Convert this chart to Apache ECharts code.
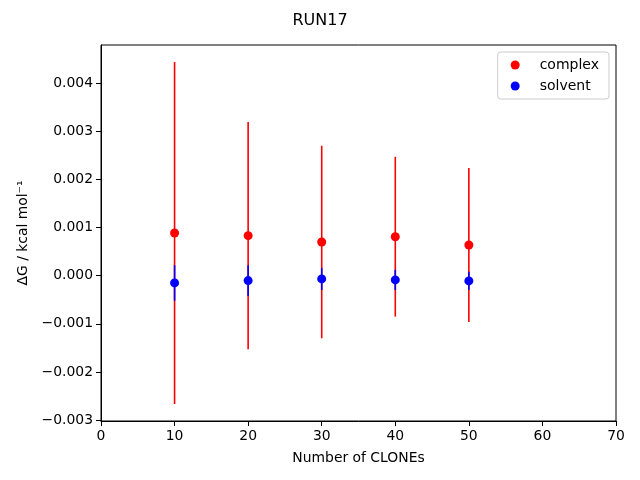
<!DOCTYPE html>
<html>
<head>
<meta charset="utf-8">
<script src="https://cdn.jsdelivr.net/npm/echarts@6/dist/echarts.min.js"></script>
<style>html,body{margin:0;padding:0;background:#fff;}#c{width:640px;height:480px;}</style>
</head>
<body>
<div id="c"></div>
<script>
const clones = [10, 20, 30, 40, 50];
const complexMean = [0.000885, 0.00083, 0.000698, 0.000808, 0.000636];
const complexErr = [0.00355, 0.00236, 0.002, 0.00166, 0.0016];
const solventMean = [-0.000152, -0.000104, -0.000068, -0.000089, -0.00011];
const solventErr = [0.00037, 0.00032, 0.00023, 0.00021, 0.00019];
const yTicks = [-0.003, -0.002, -0.001, 0, 0.001, 0.002, 0.003, 0.004];

const FONT = 'DejaVu Sans';
function fmtY(v) { const s = Number(v).toFixed(3); return s.replace('-', '\u2212'); }

function errData(mean, err) {
  return clones.map((x, i) => [x, mean[i] - err[i], mean[i] + err[i]]);
}
function errSeries(name, mean, err, color) {
  return {
    type: 'custom', name: name, silent: true,
    data: errData(mean, err),
    encode: { x: 0, y: [1, 2] },
    renderItem: function (params, api) {
      const p1 = api.coord([api.value(0), api.value(1)]);
      const p2 = api.coord([api.value(0), api.value(2)]);
      return { type: 'line', shape: { x1: p1[0], y1: p1[1], x2: p2[0], y2: p2[1] },
               style: { stroke: color, lineWidth: 1.6 } };
    }
  };
}
function ptSeries(name, mean, color) {
  return {
    type: 'scatter', name: name, symbol: 'circle', symbolSize: 9,
    data: clones.map((x, i) => [x, mean[i]]),
    itemStyle: { color: color, opacity: 1 }
  };
}

const chart = echarts.init(document.getElementById('c'), null, { renderer: 'canvas' });
chart.setOption({
  animation: false,
  backgroundColor: '#fff',
  title: { text: 'RUN17', left: 'center', top: 8, textStyle: { fontFamily: FONT, fontSize: 16, fontWeight: 'normal', color: '#000' } },
  legend: {
    right: 31, top: 52, orient: 'vertical', itemGap: 7,
    data: ['complex', 'solvent'],
    icon: 'circle', itemWidth: 9, itemHeight: 9,
    borderColor: '#ccc', borderWidth: 1, borderRadius: 3, padding: [6, 10, 6, 13],
    textStyle: { fontFamily: FONT, fontSize: 14, color: '#000', padding: [0, 0, 0, 15] }
  },
  grid: { left: 101, right: 24, top: 45, bottom: 59, show: true, borderColor: '#000', borderWidth: 1, backgroundColor: 'transparent' },
  xAxis: {
    type: 'value', min: 0, max: 70, interval: 10,
    name: 'Number of CLONEs', nameLocation: 'middle', nameGap: 30,
    nameTextStyle: { fontFamily: FONT, fontSize: 13.9, color: '#000' },
    axisLine: { show: true, onZero: false, lineStyle: { color: '#000', width: 1 } },
    axisTick: { show: true, inside: false, length: 5, lineStyle: { color: '#000' } },
    axisLabel: { fontFamily: FONT, fontSize: 13.9, color: '#000', margin: 8 },
    splitLine: { show: false }
  },
  yAxis: {
    type: 'value', min: -0.00302, max: 0.00479,
    name: '\u0394G / kcal mol\u207B\u00B9', nameLocation: 'middle', nameGap: 68, nameRotate: 90,
    nameTextStyle: { fontFamily: FONT, fontSize: 13.9, color: '#000' },
    axisLine: { show: true, onZero: false, lineStyle: { color: '#000', width: 1 } },
    axisTick: { show: true, inside: false, length: 5, customValues: yTicks, lineStyle: { color: '#000' } },
    axisLabel: { fontFamily: FONT, fontSize: 13.9, color: '#000', margin: 8, customValues: yTicks, formatter: fmtY },
    splitLine: { show: false }
  },
  series: [
    errSeries('complexErr', complexMean, complexErr, '#ff0000'),
    ptSeries('complex', complexMean, '#ff0000'),
    errSeries('solventErr', solventMean, solventErr, '#0000ff'),
    ptSeries('solvent', solventMean, '#0000ff')
  ]
});
</script>
</body>
</html>
